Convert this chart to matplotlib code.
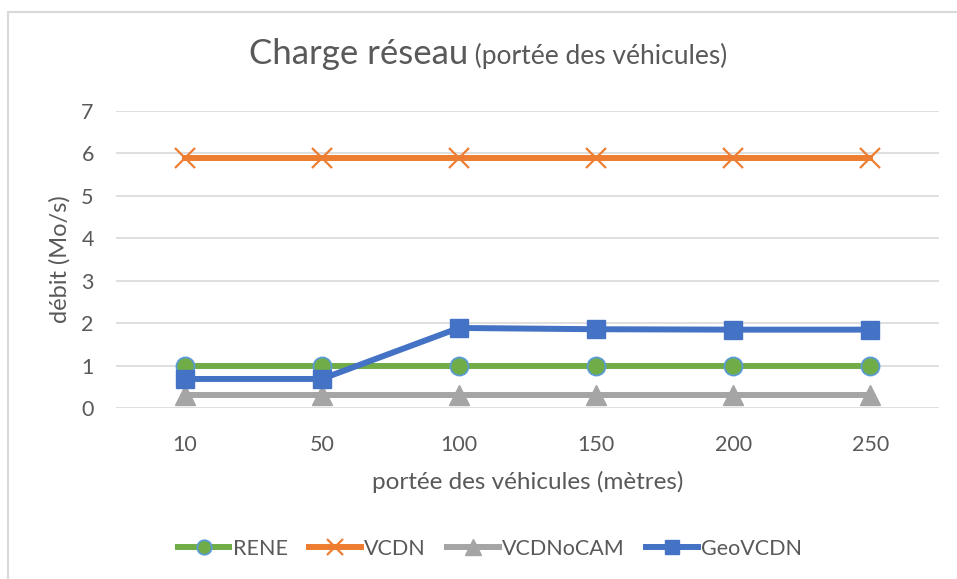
import matplotlib
matplotlib.use("Agg")
import matplotlib.pyplot as plt
from matplotlib.patches import Rectangle

plt.rcParams['font.family'] = ['Lato', 'DejaVu Sans']

categories = ["10", "50", "100", "150", "200", "250"]
rene = [0.99, 0.99, 0.99, 0.99, 0.99, 0.99]
vcdn = [5.88, 5.88, 5.88, 5.88, 5.88, 5.88]
vcdn_nocam = [0.31, 0.31, 0.31, 0.31, 0.31, 0.31]
geovcdn = [0.69, 0.69, 1.89, 1.86, 1.85, 1.85]
y_ticks = [0, 1, 2, 3, 4, 5, 6, 7]

TEXT = "#595959"
W, H = 957, 579
fig = plt.figure(figsize=(W / 100, H / 100), dpi=100)
fig.patch.set_facecolor("white")

# chart-area frame
fig.patches.append(Rectangle((8 / W, -0.05), 1.2, 1 - 12 / H + 0.05,
                             transform=fig.transFigure, fill=False,
                             edgecolor="#d9d9d9", linewidth=1.5))

ax = fig.add_axes([116 / W, 1 - 408.3 / H, (939 - 116) / W, (408.3 - 110.7) / H])
x = list(range(len(categories)))

ax.plot(x, rene, color="#70AD47", lw=4.3, marker="o", ms=13,
        mfc="#70AD47", mec="#5B9BD5", mew=1.3, label="RENE", zorder=3)
ax.plot(x, vcdn, color="#ED7D31", lw=4.3, marker="x", ms=14,
        mec="#ED7D31", mew=1.6, label="VCDN", zorder=4)
ax.plot(x, vcdn_nocam, color="#A5A5A5", lw=4.3, marker="^", ms=14,
        mfc="#A5A5A5", mec="#A5A5A5", label="VCDNoCAM", zorder=5)
ax.plot(x, geovcdn, color="#4472C4", lw=4.3, marker="s", ms=13,
        mfc="#4472C4", mec="#4472C4", label="GeoVCDN", zorder=6)

ax.set_xlim(-0.5, len(categories) - 0.5)
ax.set_ylim(0, 7)
ax.set_xticks(x)
ax.set_xticklabels(categories)
ax.set_yticks(y_ticks)
ax.grid(axis="y", color="#d9d9d9", lw=1.2)
ax.set_axisbelow(True)
for s in ax.spines.values():
    s.set_visible(False)
ax.tick_params(length=0, labelsize=15.5, colors=TEXT)
ax.tick_params(axis="x", pad=19)
ax.tick_params(axis="y", pad=16)
ax.set_xlabel("portée des véhicules (mètres)", fontsize=17.5, color=TEXT, labelpad=12)
ax.set_ylabel("débit (Mo/s)", fontsize=17, color=TEXT)
ax.yaxis.set_label_coords(-0.055, 0.5)

leg = fig.legend(loc="center", bbox_to_anchor=(490 / W, 1 - 549 / H), ncol=4,
                 frameon=False, fontsize=15.5, handlelength=2.4, handletextpad=0.15,
                 columnspacing=1.0, labelcolor=TEXT, markerscale=0.8)

# title: large main part followed by a smaller parenthetical
t1 = fig.text(0, 1 - 64 / H, "Charge réseau", fontsize=25, color=TEXT, va="baseline")
t2 = fig.text(0, 1 - 64 / H, " (portée des véhicules)", fontsize=19, color=TEXT, va="baseline")
fig.canvas.draw()
r = fig.canvas.get_renderer()
w1 = t1.get_window_extent(r).width
w2 = t2.get_window_extent(r).width
cx = 488
start = cx - (w1 + w2) / 2
t1.set_x(start / W)
t2.set_x((start + w1) / W)

fig.savefig("out.png", dpi=100, facecolor="white")
